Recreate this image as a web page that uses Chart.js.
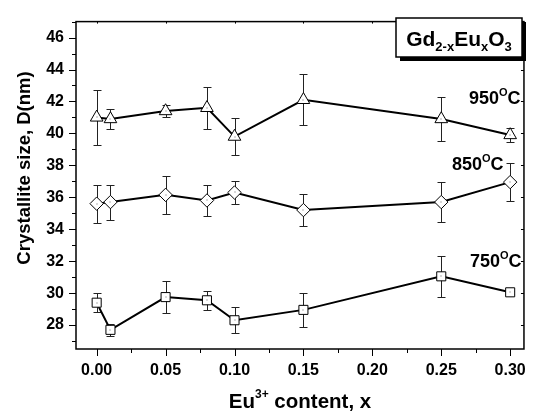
<!DOCTYPE html>
<html>
<head>
<meta charset="utf-8">
<script src="https://cdn.jsdelivr.net/npm/chart.js@4.4.1/dist/chart.umd.min.js"></script>
<style>
  html, body { margin: 0; padding: 0; background: #fff; }
  #wrap { width: 538px; height: 415px; }
</style>
</head>
<body>
<div id="wrap"><canvas id="chart" width="538" height="415"></canvas></div>
<script>
  // ---------- Data ----------
  const xContent = [0, 0.01, 0.05, 0.08, 0.10, 0.15, 0.25, 0.30];
  const d950 = [41.0, 40.9, 41.4, 41.6, 39.8, 42.1, 40.9, 39.9];
  const e950 = [1.7, 0.6, 0.4, 1.3, 1.15, 1.6, 1.4, 0.45];
  const d850 = [35.6, 35.7, 36.15, 35.8, 36.3, 35.2, 35.7, 36.95];
  const e850 = [1.2, 1.1, 1.2, 1.0, 0.7, 1.0, 1.25, 1.2];
  const d750 = [29.4, 27.7, 29.75, 29.55, 28.3, 28.95, 31.05, 30.05];
  const e750 = [0.6, 0.38, 1.0, 0.6, 0.8, 1.07, 1.3, 0.1];

  const xTicks = [0, 0.05, 0.10, 0.15, 0.20, 0.25, 0.30];
  const yTicks = [28, 30, 32, 34, 36, 38, 40, 42, 44, 46];
  const tempLabels = ['950', '850', '750'];

  const FONT = '"Liberation Sans", Arial, Helvetica, sans-serif';

  // ---------- Helpers ----------
  function rich(ctx, parts, x, y, measureOnly){
    let cx = x;
    parts.forEach(p => {
      ctx.font = `bold ${p.size}px ${FONT}`;
      if (!measureOnly) ctx.fillText(p.t, cx, y + (p.dy || 0));
      cx += ctx.measureText(p.t).width + (p.gap || 0);
    });
    return cx - x;
  }

  function pts(ys){ return xContent.map((x, i) => ({ x, y: ys[i] })); }

  function series(label, ys, errs, style, radius){
    return {
      label,
      data: pts(ys),
      errors: errs,
      borderColor: '#000',
      borderWidth: 2,
      pointStyle: style,
      pointRadius: radius,
      pointHoverRadius: radius,
      pointBackgroundColor: '#fff',
      pointBorderColor: '#000',
      pointBorderWidth: 1,
      tension: 0,
      fill: false,
    };
  }

  // ---------- Plugins ----------
  const errorBars = {
    id: 'errorBars',
    beforeDatasetsDraw(chart){
      const { ctx, scales: { x, y } } = chart;
      ctx.save();
      ctx.strokeStyle = '#222';
      ctx.lineWidth = 1;
      chart.data.datasets.forEach(ds => {
        ds.data.forEach((p, j) => {
          const px = Math.round(x.getPixelForValue(p.x)) + 0.5;
          const t = Math.round(y.getPixelForValue(p.y + ds.errors[j])) + 0.5;
          const b = Math.round(y.getPixelForValue(p.y - ds.errors[j])) + 0.5;
          ctx.beginPath();
          ctx.moveTo(px, t); ctx.lineTo(px, b);
          ctx.moveTo(px - 4, t); ctx.lineTo(px + 4, t);
          ctx.moveTo(px - 4, b); ctx.lineTo(px + 4, b);
          ctx.stroke();
        });
      });
      ctx.restore();
    },
    afterDatasetsDraw(chart){
      // tiny centre dot in every marker
      const { ctx } = chart;
      ctx.save();
      ctx.fillStyle = '#666';
      chart.data.datasets.forEach((ds, i) => {
        chart.getDatasetMeta(i).data.forEach(el => {
          ctx.fillRect(Math.round(el.x) - 0.5, Math.round(el.y) - 0.5, 1, 1);
        });
      });
      ctx.restore();
    }
  };

  const frame = {
    id: 'frame',
    afterDraw(chart){
      const { ctx, chartArea: a, scales: { x, y } } = chart;
      ctx.save();
      ctx.strokeStyle = '#000';
      ctx.lineWidth = 1.5;
      ctx.strokeRect(a.left, a.top, a.right - a.left, a.bottom - a.top);

      ctx.lineWidth = 1;
      ctx.beginPath();
      // x ticks: majors + minors (outside bottom, tiny inside top)
      for (let v = 0; v <= 0.3001; v += 0.025){
        const px = Math.round(x.getPixelForValue(v)) + 0.5;
        const major = Math.round(v * 1000) % 50 === 0;
        ctx.moveTo(px, a.bottom); ctx.lineTo(px, a.bottom + (major ? 7 : 4));
        if (major){ ctx.moveTo(px, a.top); ctx.lineTo(px, a.top + 2); }
      }
      // y ticks (outside left, inside right)
      for (let v = 27; v <= 47; v += 1){
        const py = Math.round(y.getPixelForValue(v)) + 0.5;
        const major = v % 2 === 0;
        ctx.moveTo(a.left, py); ctx.lineTo(a.left - (major ? 7 : 4), py);
        ctx.moveTo(a.right, py); ctx.lineTo(a.right - (major ? 3 : 0), py);
      }
      ctx.stroke();

      ctx.fillStyle = '#000';
      ctx.textBaseline = 'alphabetic';
      ctx.textAlign = 'left';

      // axis titles
      const xt = [
        { t: 'Eu', size: 20.5 },
        { t: '3+', size: 12, dy: -10 },
        { t: ' content, x', size: 20.5 },
      ];
      const xw = rich(ctx, xt, 0, 0, true);
      rich(ctx, xt, (a.left + a.right) / 2 - xw / 2, 408);

      ctx.save();
      ctx.translate(30, 168);
      ctx.rotate(-Math.PI / 2);
      ctx.font = `bold 18.5px ${FONT}`;
      ctx.textAlign = 'center';
      ctx.fillText('Crystallite size, D(nm)', 0, 0);
      ctx.restore();

      // temperature labels
      const spots = [[469, 104], [452, 170], [470, 267]];
      tempLabels.forEach((t, i) => {
        rich(ctx, [
          { t, size: 18 },
          { t: 'O', size: 11, dy: -8 },
          { t: 'C', size: 18 },
        ], spots[i][0], spots[i][1]);
      });

      // compound box with shadow
      const bx = 396, by = 18, bw = 126, bh = 39;
      ctx.fillRect(bx + 4, by + 4, bw, bh);
      ctx.fillStyle = '#fff';
      ctx.fillRect(bx, by, bw, bh);
      ctx.lineWidth = 1.5;
      ctx.strokeRect(bx, by, bw, bh);
      ctx.fillStyle = '#000';
      const formula = [
        { t: 'Gd', size: 21 },
        { t: '2-x', size: 13, dy: 5 },
        { t: 'Eu', size: 21 },
        { t: 'x', size: 13, dy: 5 },
        { t: 'O', size: 21 },
        { t: '3', size: 13, dy: 5 },
      ];
      const fw = rich(ctx, formula, 0, 0, true);
      rich(ctx, formula, bx + bw / 2 - fw / 2, 46);
      ctx.restore();
    }
  };

  // ---------- Chart ----------
  Chart.defaults.font.family = FONT;
  Chart.defaults.color = '#000';

  new Chart(document.getElementById('chart'), {
    type: 'line',
    data: {
      datasets: [
        series('950°C', d950, e950, 'triangle', 7.3),
        series('850°C', d850, e850, 'rectRot', 6.7),
        series('750°C', d750, e750, 'rect', 6.4),
      ]
    },
    options: {
      responsive: false,
      animation: false,
      events: [],
      layout: { padding: { top: 7, right: 6, left: 0, bottom: 0 } },
      plugins: { legend: { display: false }, tooltip: { enabled: false } },
      scales: {
        x: {
          type: 'linear',
          min: -0.015,
          max: 0.31,
          grid: { display: false, drawTicks: false },
          border: { display: false },
          afterBuildTicks: s => { s.ticks = xTicks.map(v => ({ value: v })); },
          afterFit: s => { s.height = 66; },
          ticks: {
            padding: 12,
            maxRotation: 0,
            autoSkip: false,
            font: { size: 16, weight: 'bold' },
            callback: v => Number(v).toFixed(2),
          },
        },
        y: {
          min: 26.5,
          max: 47,
          grid: { display: false, drawTicks: false },
          border: { display: false },
          afterBuildTicks: s => { s.ticks = yTicks.map(v => ({ value: v })); },
          afterFit: s => { s.width = 76; },
          ticks: {
            padding: 12,
            autoSkip: false,
            font: { size: 16, weight: 'bold' },
            callback: v => String(v),
          },
        },
      },
    },
    plugins: [errorBars, frame],
  });
</script>
</body>
</html>
